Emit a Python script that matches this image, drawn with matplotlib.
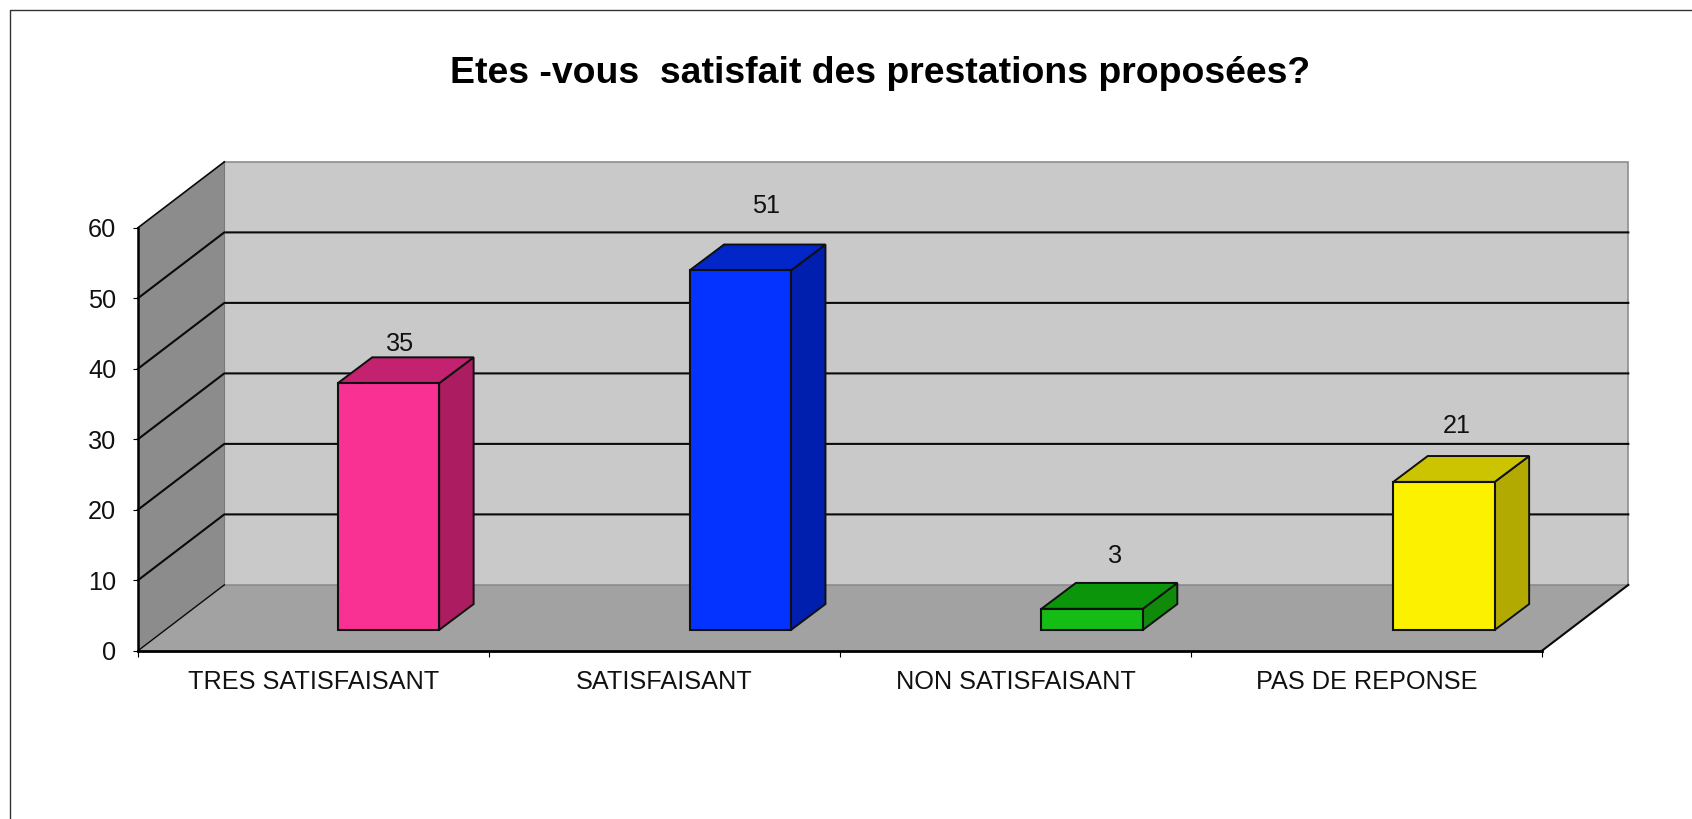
import matplotlib.pyplot as plt
from matplotlib.lines import Line2D
from matplotlib.patches import Polygon

categories = ["TRES SATISFAISANT", "SATISFAISANT", "NON SATISFAISANT", "PAS DE REPONSE"]
values = [35, 51, 3, 21]
y_ticks = [0, 10, 20, 30, 40, 50, 60]
title = "Etes -vous  satisfait des prestations proposées?"

front_colors = ["#F93192", "#0433FF", "#15BC15", "#FCF200"]
top_colors = ["#C2226F", "#0226C8", "#0A950A", "#CCC400"]
side_colors = ["#AB1C60", "#001FAE", "#0F8A0B", "#B2AA00"]

# the value labels sit at uneven distances in the original, (x, y) in pixels
label_offsets = [(12, 39), (26, 64), (23, 53), (13, 56)]

W, H = 1692, 819
AX_LEFT, AX_RIGHT = 138, 1542
AX_TOP, AX_BOTTOM = 227.7, 650.7

# oblique depth of the box, in data units
DEPTH_X = 86.3 / 351
DEPTH_Y = 65.8 / 7.05
# same for the bars
BAR_DX = 34.5 / 351
BAR_DY = 25.9 / 7.05
BAR_WIDTH = 101.4 / 351
BAR_START = 0.569
BAR_STEP = 1.0024
BAR_BOTTOM = 2.94


def poly(ax, points, color, zorder, edge="none", lw=0.0):
    ax.add_patch(Polygon(points, closed=True, facecolor=color, edgecolor=edge,
                         linewidth=lw, clip_on=False, zorder=zorder))


def draw_box(ax, n, ymax):
    poly(ax, [(DEPTH_X, DEPTH_Y), (n + DEPTH_X, DEPTH_Y),
              (n + DEPTH_X, ymax + DEPTH_Y), (DEPTH_X, ymax + DEPTH_Y)],
         "#C9C9C9", 1, edge="#8E8E8E", lw=1.2)
    poly(ax, [(0, 0), (DEPTH_X, DEPTH_Y), (DEPTH_X, ymax + DEPTH_Y), (0, ymax)],
         "#8C8C8C", 1)
    poly(ax, [(0, 0), (n, 0), (n + DEPTH_X, DEPTH_Y), (DEPTH_X, DEPTH_Y)],
         "#A2A2A2", 1.5)
    ax.plot([DEPTH_X, n + DEPTH_X], [DEPTH_Y, DEPTH_Y], color="#8E8E8E", lw=0.8,
            clip_on=False, zorder=1.6)
    ax.plot([DEPTH_X, DEPTH_X], [DEPTH_Y, ymax + DEPTH_Y], color="#7A7A7A", lw=0.8,
            clip_on=False, zorder=1.6)
    for v in y_ticks[1:-1]:
        ax.plot([0, DEPTH_X, n + DEPTH_X], [v, v + DEPTH_Y, v + DEPTH_Y],
                color="#0A0A0A", lw=1.5, clip_on=False, zorder=2)
    ax.plot([0, DEPTH_X], [ymax, ymax + DEPTH_Y], color="#0A0A0A", lw=1.2,
            clip_on=False, zorder=2)
    ax.plot([0, DEPTH_X], [0, DEPTH_Y], color="#0A0A0A", lw=1.0,
            clip_on=False, zorder=2)
    ax.plot([n, n + DEPTH_X], [0, DEPTH_Y], color="#0A0A0A", lw=1.5,
            clip_on=False, zorder=2)


def draw_bars(ax):
    for i, value in enumerate(values):
        x0 = i * BAR_STEP + BAR_START
        x1 = x0 + BAR_WIDTH
        y1 = BAR_BOTTOM + value
        poly(ax, [(x1, BAR_BOTTOM), (x1 + BAR_DX, BAR_BOTTOM + BAR_DY),
                  (x1 + BAR_DX, y1 + BAR_DY), (x1, y1)],
             side_colors[i], 3, edge="#101010", lw=1.4)
        poly(ax, [(x0, y1), (x1, y1), (x1 + BAR_DX, y1 + BAR_DY),
                  (x0 + BAR_DX, y1 + BAR_DY)],
             top_colors[i], 3, edge="#101010", lw=1.4)
        ax.bar(x0, value, width=BAR_WIDTH, bottom=BAR_BOTTOM, align="edge",
               color=front_colors[i], edgecolor="#101010", linewidth=1.5, zorder=4)
        ax.annotate(str(value), (x0 + BAR_WIDTH / 2, y1), xytext=label_offsets[i],
                    textcoords="offset pixels", ha="center", va="center",
                    fontsize=18.2, color="#111111", annotation_clip=False, zorder=5)


def main():
    plt.rcParams["font.family"] = ["Liberation Sans", "DejaVu Sans"]
    fig = plt.figure(figsize=(W / 100, H / 100), dpi=100)
    ax = fig.add_axes([AX_LEFT / W, 1 - AX_BOTTOM / H,
                       (AX_RIGHT - AX_LEFT) / W, (AX_BOTTOM - AX_TOP) / H])
    ax.patch.set_visible(False)
    ax.set_xlim(0, len(categories))
    ax.set_ylim(y_ticks[0], y_ticks[-1])

    draw_box(ax, len(categories), y_ticks[-1])
    draw_bars(ax)

    ax.spines["top"].set_visible(False)
    ax.spines["right"].set_visible(False)
    ax.spines["left"].set_linewidth(1.8)
    ax.spines["bottom"].set_linewidth(2.0)
    ax.spines["left"].set_zorder(6)
    ax.spines["bottom"].set_zorder(6)

    ax.set_yticks(y_ticks)
    ax.tick_params(axis="y", length=3.6, width=0.8, pad=12, labelsize=18.2, labelcolor="#111111")
    ax.set_xticks(range(len(categories) + 1))
    ax.set_xticklabels([])
    ax.set_xticks([i + 0.5 for i in range(len(categories))], minor=True)
    ax.set_xticklabels(categories, minor=True)
    ax.tick_params(axis="x", which="major", length=4.5, width=0.8)
    ax.tick_params(axis="x", which="minor", length=0, pad=14, labelsize=18.2, labelcolor="#111111")

    fig.text(880 / W, 1 - 73.5 / H, title, ha="center", va="center",
             fontsize=26.9, fontweight="bold", color="black")

    # outer frame, runs off the right and bottom of the picture
    fig.add_artist(Line2D([10 / W, 10 / W, 1], [0, 1 - 10 / H, 1 - 10 / H],
                          color="#333333", lw=1.0))

    plt.savefig("out.png", dpi=100)


if __name__ == "__main__":
    main()
